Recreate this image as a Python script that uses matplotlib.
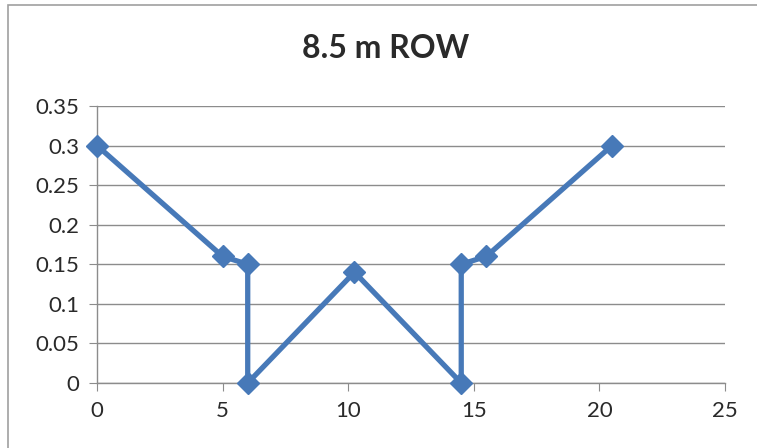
import matplotlib
matplotlib.use("Agg")
import matplotlib.pyplot as plt
from matplotlib.patches import Rectangle

title = "8.5 m ROW"
x_vals = [0, 5, 6, 6, 10.25, 14.5, 14.5, 15.5, 20.5]
y_vals = [0.3, 0.16, 0.15, 0.0, 0.14, 0.0, 0.15, 0.16, 0.3]
x_ticks = [0, 5, 10, 15, 20, 25]
y_ticks = [0, 0.05, 0.1, 0.15, 0.2, 0.25, 0.3, 0.35]
y_labels = ["0", "0.05", "0.1", "0.15", "0.2", "0.25", "0.3", "0.35"]

plt.rcParams['font.family'] = ['Lato', 'DejaVu Sans']

W, H = 757, 448
fig = plt.figure(figsize=(W/100, H/100), dpi=100)
fig.patch.set_facecolor("white")
fig.add_artist(Rectangle((8/W, -0.1), 1.2, 1 - 5/H + 0.1, transform=fig.transFigure,
                         fill=False, edgecolor="#a0a0a0", linewidth=1.2))

ax = fig.add_axes([97/W, 1 - 383/H, (725-97)/W, (383-106)/H])
color = "#4779b8"
ax.plot(x_vals, y_vals, color=color, linewidth=3.8, marker="D", markersize=11,
        markerfacecolor=color, markeredgecolor=color, zorder=3, clip_on=False)
ax.set_xlim(0, 25)
ax.set_ylim(0, 0.35)
ax.set_xticks(x_ticks)
ax.set_xticklabels([str(t) for t in x_ticks])
ax.set_yticks(y_ticks)
ax.set_yticklabels(y_labels)
ax.yaxis.grid(True, color="#8c8c8c", linewidth=1)
ax.set_axisbelow(True)
for s in ["top", "right"]:
    ax.spines[s].set_visible(False)
for s in ["left", "bottom"]:
    ax.spines[s].set_color("#8c8c8c")
    ax.spines[s].set_linewidth(1)
ax.tick_params(axis="both", direction="out", length=6, color="#8c8c8c",
               labelsize=16, labelcolor="#2a2a2a", pad=7)
fig.text(386/W, 1 - 48/H, title, fontsize=23, fontweight="bold", color="#2a2a2a",
         ha="center", va="center")

fig.savefig("out.png", dpi=100, facecolor="white")
